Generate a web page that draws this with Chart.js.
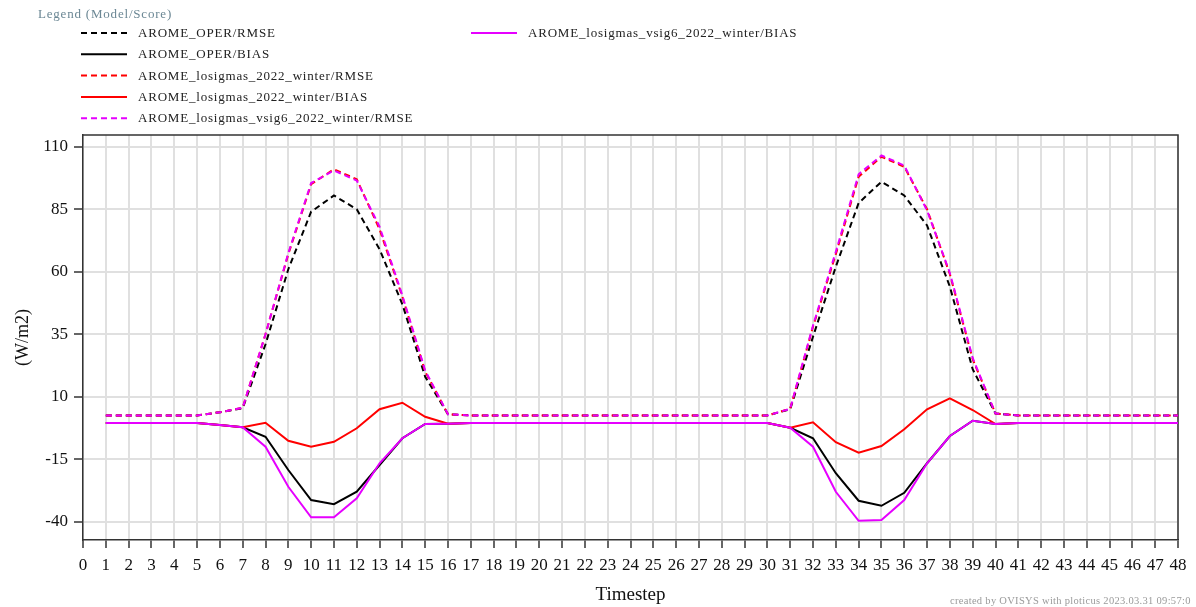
<!DOCTYPE html>
<html>
<head>
<meta charset="utf-8">
<script src="https://cdn.jsdelivr.net/npm/chart.js@4.4.1/dist/chart.umd.min.js"></script>
<style>
  html, body { margin: 0; padding: 0; background: #fff; }
  #wrap { position: relative; width: 1196px; height: 607px; overflow: hidden; }
  #footer { position: absolute; left: 950px; bottom: 1px; font: 10.5px "Liberation Serif", serif; letter-spacing: 0.3px; color: #9a9a9a; white-space: nowrap; }
</style>
</head>
<body>
<div id="wrap">
  <canvas id="chart" width="1196" height="607"></canvas>
  <div id="footer">created by OVISYS with ploticus 2023.03.31 09:57:0</div>
</div>
<script>
/* values */
const timesteps = [1, 2, 3, 4, 5, 6, 7, 8, 9, 10, 11, 12, 13, 14, 15, 16, 17, 18, 19, 20, 21, 22, 23, 24,
                   25, 26, 27, 28, 29, 30, 31, 32, 33, 34, 35, 36, 37, 38, 39, 40, 41, 42, 43, 44, 45, 46, 47, 48];

const operRmse = [2.5, 2.5, 2.5, 2.5, 2.5, 3.8, 5.4, 31, 61, 84, 90.5, 85, 69, 47, 18, 3, 2.5, 2.5, 2.5, 2.5, 2.5, 2.5, 2.5, 2.5,
                  2.5, 2.5, 2.5, 2.5, 2.5, 2.5, 5, 34, 62, 87.5, 96, 90.5, 78.5, 54, 21, 3.3, 2.5, 2.5, 2.5, 2.5, 2.5, 2.5, 2.5, 2.5];
const operBias = [-0.5, -0.5, -0.5, -0.5, -0.5, -1.3, -2.2, -6, -19.3, -31.3, -33, -28, -17.3, -6.6, -0.9, -0.8, -0.5, -0.5, -0.5, -0.5, -0.5, -0.5, -0.5, -0.5,
                  -0.5, -0.5, -0.5, -0.5, -0.5, -0.5, -2.4, -6.6, -20.6, -31.6, -33.6, -28.4, -16.6, -5.7, 0.4, -0.9, -0.5, -0.5, -0.5, -0.5, -0.5, -0.5, -0.5, -0.5];
const losigRmse = [2.5, 2.5, 2.5, 2.5, 2.5, 3.8, 5.6, 35, 67, 95, 101, 97, 77, 50, 20, 3, 2.5, 2.5, 2.5, 2.5, 2.5, 2.5, 2.5, 2.5,
                   2.5, 2.5, 2.5, 2.5, 2.5, 2.5, 5.2, 38, 67, 98, 106, 102, 85, 59, 25, 3.3, 2.5, 2.5, 2.5, 2.5, 2.5, 2.5, 2.5, 2.5];
const losigBias = [-0.5, -0.5, -0.5, -0.5, -0.5, -1.3, -2.2, -0.4, -7.6, -10, -8, -2.6, 5, 7.6, 2, -0.8, -0.5, -0.5, -0.5, -0.5, -0.5, -0.5, -0.5, -0.5,
                   -0.5, -0.5, -0.5, -0.5, -0.5, -0.5, -2.4, -0.2, -8.2, -12.4, -9.7, -3, 5, 9.4, 4.7, -0.9, -0.5, -0.5, -0.5, -0.5, -0.5, -0.5, -0.5, -0.5];
const vsigRmse = [2.5, 2.5, 2.5, 2.5, 2.5, 3.8, 5.6, 35, 67.5, 95.5, 100.5, 96.5, 78, 50.5, 20.5, 3, 2.5, 2.5, 2.5, 2.5, 2.5, 2.5, 2.5, 2.5,
                  2.5, 2.5, 2.5, 2.5, 2.5, 2.5, 5.2, 38.5, 68, 99, 106.5, 102.5, 84.5, 59.5, 25.5, 3.3, 2.5, 2.5, 2.5, 2.5, 2.5, 2.5, 2.5, 2.5];
const vsigBias = [-0.5, -0.5, -0.5, -0.5, -0.5, -1.3, -2.2, -10, -26, -38.2, -38.2, -30.6, -16.6, -6.6, -0.9, -0.8, -0.5, -0.5, -0.5, -0.5, -0.5, -0.5, -0.5, -0.5,
                  -0.5, -0.5, -0.5, -0.5, -0.5, -0.5, -2.4, -10, -28, -39.6, -39.3, -31.3, -16.6, -5.7, 0.4, -0.9, -0.5, -0.5, -0.5, -0.5, -0.5, -0.5, -0.5, -0.5];

const seriesNames = [
  "AROME_OPER/RMSE",
  "AROME_OPER/BIAS",
  "AROME_losigmas_2022_winter/RMSE",
  "AROME_losigmas_2022_winter/BIAS",
  "AROME_losigmas_vsig6_2022_winter/RMSE",
  "AROME_losigmas_vsig6_2022_winter/BIAS",
];
const yTicks = [110, 85, 60, 35, 10, -15, -40];

(() => {
  const FONT = '"Liberation Serif", "DejaVu Serif", serif';
  const colors = ["#000000", "#000000", "#ff0000", "#ff0000", "#e600ff", "#e600ff"];
  const values = [operRmse, operBias, losigRmse, losigBias, vsigRmse, vsigBias];

  const datasets = values.map((vals, i) => ({
    label: seriesNames[i],
    data: vals.map((v, k) => ({ x: timesteps[k], y: v })),
    borderColor: colors[i],
    borderWidth: 2,
    borderDash: i % 2 === 0 ? [6, 4] : [],
    pointRadius: 0,
    tension: 0,
    fill: false,
    order: 5 - i,          // last series on top, like the original
  }));

  /* top/right frame + custom two-column legend */
  const framePlugin = {
    id: "frame",
    beforeDatasetsDraw(chart) {
      const { ctx, chartArea: a } = chart;
      ctx.save();
      ctx.strokeStyle = "#333";
      ctx.lineWidth = 1.5;
      ctx.beginPath();
      ctx.moveTo(a.left, a.top);
      ctx.lineTo(a.right, a.top);
      ctx.lineTo(a.right, a.bottom);
      ctx.stroke();
      ctx.restore();
    },
    afterDraw(chart) {
      const ctx = chart.ctx;
      ctx.save();
      ctx.textBaseline = "middle";
      ctx.font = `13px ${FONT}`;
      ctx.letterSpacing = "0.8px";
      ctx.fillStyle = "#6b8794";
      ctx.fillText("Legend (Model/Score)", 38, 15);
      chart.data.datasets.forEach((ds, i) => {
        const col = i < 5 ? 0 : 1;
        const row = i < 5 ? i : i - 5;
        const x0 = col === 0 ? 81 : 471;
        const y = 33 + row * 21.3;
        ctx.strokeStyle = ds.borderColor;
        ctx.lineWidth = 2;
        ctx.setLineDash(ds.borderDash);
        ctx.beginPath();
        ctx.moveTo(x0, y);
        ctx.lineTo(x0 + 46, y);
        ctx.stroke();
        ctx.setLineDash([]);
        ctx.fillStyle = "#222";
        ctx.fillText(ds.label, x0 + 57, y + 0.5);
      });
      ctx.restore();
    },
  };

  new Chart(document.getElementById("chart").getContext("2d"), {
    type: "line",
    data: { datasets },
    options: {
      responsive: false,
      animation: false,
      devicePixelRatio: 1,
      layout: { padding: { top: 135, right: 18, bottom: 0, left: 0 } },
      plugins: { legend: { display: false }, tooltip: { enabled: false } },
      scales: {
        x: {
          type: "linear",
          min: 0,
          max: 48,
          afterFit: (s) => { s.height = 67; },
          ticks: {
            stepSize: 1,
            autoSkip: false,
            maxRotation: 0,
            padding: 7,
            color: "#111",
            font: { family: FONT, size: 17 },
          },
          grid: { color: "#e0e0e0", lineWidth: 2, tickColor: "#333", tickWidth: 1.5, tickLength: 8 },
          border: { color: "#333", width: 1.5 },
          title: {
            display: true,
            text: "Timestep",
            color: "#111",
            font: { family: FONT, size: 19 },
            padding: { top: 1, bottom: 1 },
          },
        },
        y: {
          min: -47.3,
          max: 114.7,
          afterFit: (s) => { s.width = 83; },
          afterBuildTicks: (s) => { s.ticks = yTicks.map((v) => ({ value: v })); },
          ticks: {
            padding: 6,
            color: "#111",
            font: { family: FONT, size: 17 },
          },
          grid: { color: "#e0e0e0", lineWidth: 2, tickColor: "#333", tickWidth: 1.5, tickLength: 9 },
          border: { color: "#333", width: 1.5 },
          title: {
            display: true,
            text: "(W/m2)",
            color: "#111",
            font: { family: FONT, size: 18 },
            padding: { top: 12, bottom: 12 },
          },
        },
      },
    },
    plugins: [framePlugin],
  });
})();
</script>
</body>
</html>
